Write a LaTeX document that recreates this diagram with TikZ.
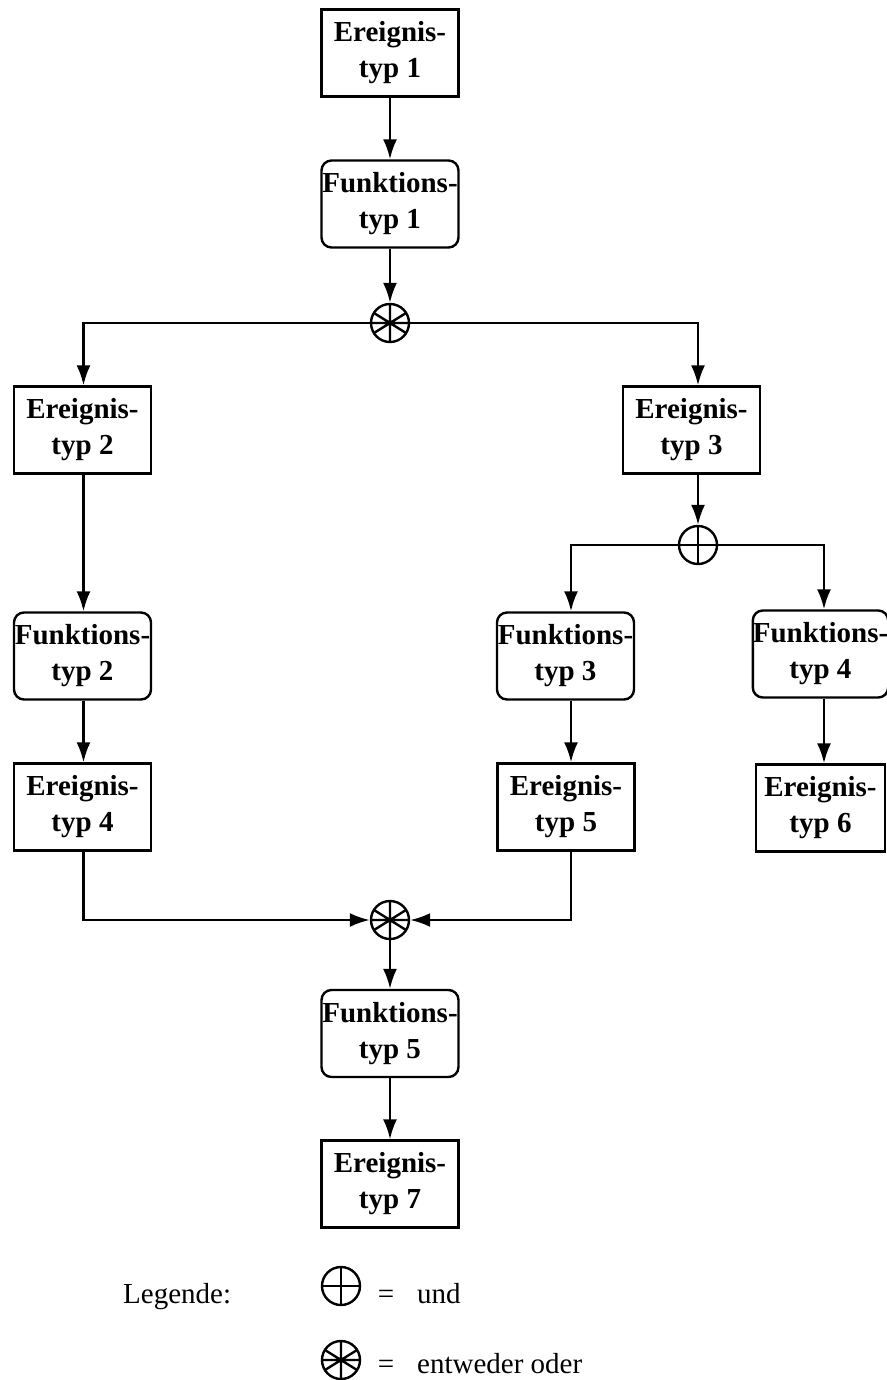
\documentclass[tikz,border=0pt]{standalone}
\usepackage{fontspec}
\setmainfont{Liberation Serif}
\usetikzlibrary{arrows.meta}
\begin{document}
\begin{tikzpicture}[x=1pt,y=-1pt,
  lw/.style={line width=2.4pt},
  txt/.style={font=\bfseries\fontsize{29}{36}\selectfont, align=center, inner sep=0pt, minimum width=137pt, minimum height=87pt},
  evt/.style={txt, draw, lw},
  fun/.style={txt, draw, lw, rounded corners=10pt},
  arr/.style={lw, -{Latex[length=20pt,width=14pt]}},
  conn/.style={circle, draw, lw, minimum size=38pt, inner sep=0pt},
  andop/.style={conn, path picture={\draw[lw] (path picture bounding box.north) -- (path picture bounding box.south) (path picture bounding box.west) -- (path picture bounding box.east);}},
  xorop/.style={conn, path picture={\draw[lw] (path picture bounding box.north) -- (path picture bounding box.south) (path picture bounding box.west) -- (path picture bounding box.east) (path picture bounding box.center) +(32:30pt) -- +(212:30pt) (path picture bounding box.center) +(148:30pt) -- +(328:30pt);}},
  leg/.style={font=\fontsize{29}{36}\selectfont, inner sep=0pt},
]
\useasboundingbox (0,0) rectangle (886,1380);

% nodes
\node[evt] (E1) at (390,53) {Ereignis-\\typ 1};
\node[fun] (F1) at (390,204) {Funktions-\\typ 1};
\node[xorop] (X1) at (390,323) {};
\node[evt] (E2) at (82.5,430) {Ereignis-\\typ 2};
\node[evt] (E3) at (691.5,430) {Ereignis-\\typ 3};
\node[andop] (A1) at (698,545) {};
\node[fun] (F2) at (82.5,656) {Funktions-\\typ 2};
\node[fun] (F3) at (565.5,656) {Funktions-\\typ 3};
\node[fun, minimum width=129pt] (F4) at (820.5,654) {Funktions-\\typ 4};
\node[evt] (E4) at (82.5,807) {Ereignis-\\typ 4};
\node[evt] (E5) at (566,807) {Ereignis-\\typ 5};
\node[evt, minimum width=129pt] (E6) at (820.5,808) {Ereignis-\\typ 6};
\node[xorop] (X2) at (390,920) {};
\node[fun] (F5) at (390,1033.5) {Funktions-\\typ 5};
\node[evt] (E7) at (390,1184) {Ereignis-\\typ 7};

% connectors
\draw[arr] (E1) -- (F1);
\draw[arr] (F1) -- (X1);
\draw[arr] (X1.west) -| ([xshift=1pt]E2.north);
\draw[arr] (X1.east) -| ([xshift=6.5pt]E3.north);
\draw[arr] ([xshift=1pt]E2.south) -- ([xshift=1pt]F2.north);
\draw[arr] ([xshift=6.5pt]E3.south) -- (A1);
\draw[arr] (A1.west) -| ([xshift=5.5pt]F3.north);
\draw[arr] (A1.east) -| ([xshift=3.5pt]F4.north);
\draw[arr] ([xshift=1pt]F2.south) -- ([xshift=1pt]E4.north);
\draw[arr] ([xshift=5.5pt]F3.south) -- ([xshift=5pt]E5.north);
\draw[arr] ([xshift=3.5pt]F4.south) -- ([xshift=3.5pt]E6.north);
\draw[arr] ([xshift=1pt]E4.south) |- (X2.west);
\draw[arr] ([xshift=5pt]E5.south) |- (X2.east);
\draw[arr] (X2) -- (F5);
\draw[arr] (F5) -- (E7);

% legend
\node[leg, anchor=base west] (LG) at (123,1303) {Legende:};
\node[andop] (LA) at (341,1286) {};
\node[leg, anchor=base] (EQ1) at (386,1303) {=};
\node[leg, anchor=base west] (LU) at (417,1303) {und};
\node[xorop] (LX) at (341,1360) {};
\node[leg, anchor=base] (EQ2) at (386,1373) {=};
\node[leg, anchor=base west] (LE) at (417,1373) {entweder oder};
\end{tikzpicture}
\end{document}
